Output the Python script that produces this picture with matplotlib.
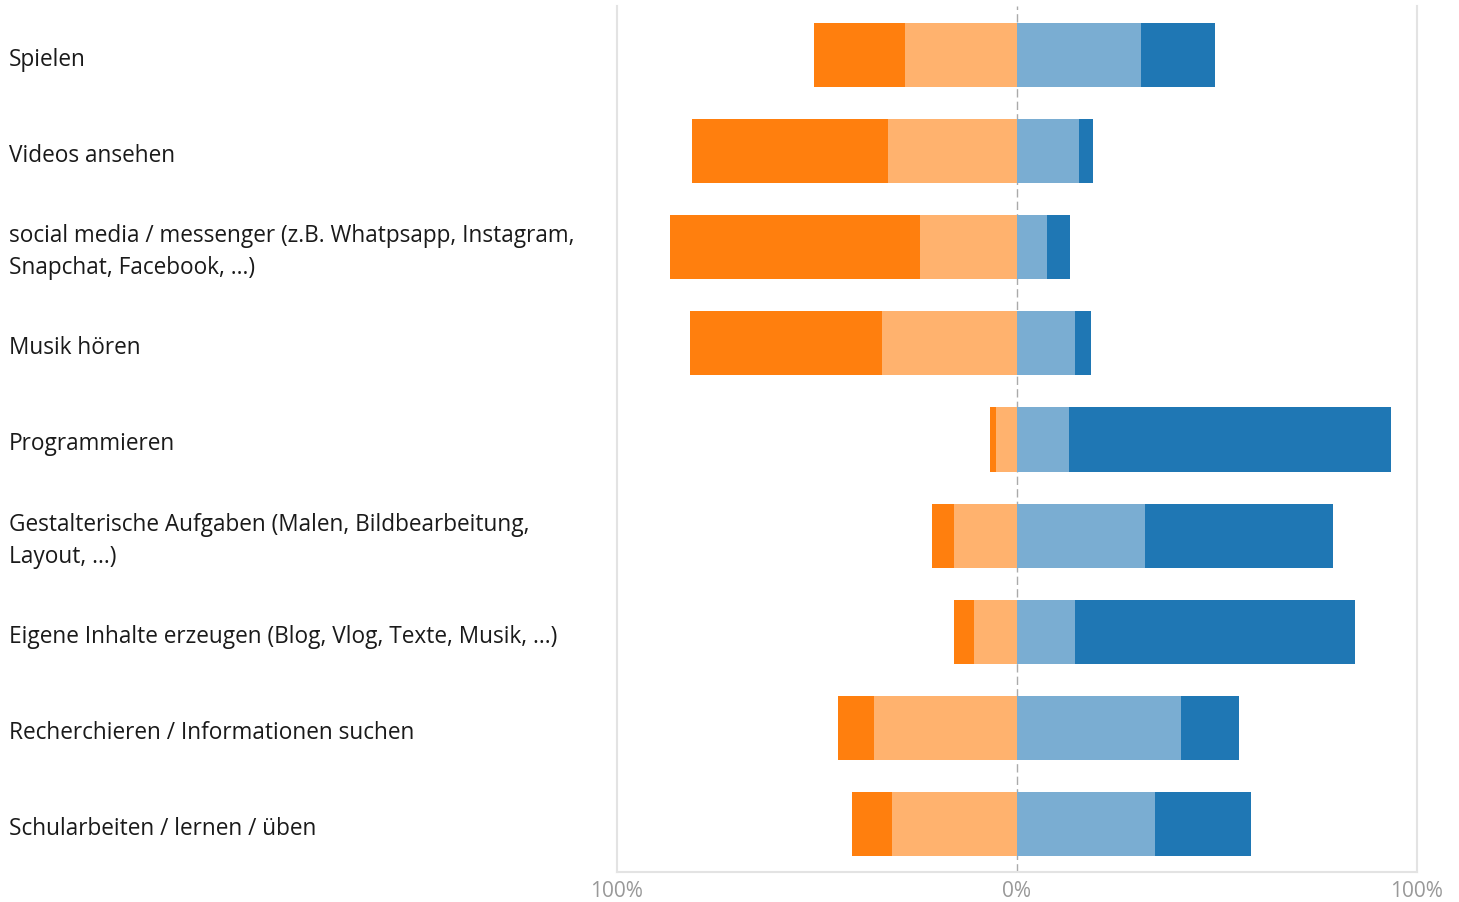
import matplotlib
matplotlib.use("Agg")
import matplotlib.pyplot as plt
import numpy as np

plt.rcParams['font.family'] = ['Open Sans', 'DejaVu Sans']

categories = [
    "Spielen",
    "Videos ansehen",
    "social media / messenger (z.B. Whatpsapp, Instagram,\nSnapchat, Facebook, ...)",
    "Musik hören",
    "Programmieren",
    "Gestalterische Aufgaben (Malen, Bildbearbeitung,\nLayout, ...)",
    "Eigene Inhalte erzeugen (Blog, Vlog, Texte, Musik, ...)",
    "Recherchieren / Informationen suchen",
    "Schularbeiten / lernen / üben",
]

# percentages, left side (negative direction) and right side
strong_neg = [22.75, 49.0, 62.5, 48.0, 1.5, 5.5, 5.0, 9.0, 10.0]
weak_neg = [28.0, 32.25, 24.25, 33.75, 5.25, 15.75, 10.75, 35.75, 31.25]
weak_pos = [31.0, 15.5, 7.5, 14.5, 13.0, 32.0, 14.5, 41.0, 34.5]
strong_pos = [18.5, 3.5, 5.75, 4.0, 80.5, 47.0, 70.0, 14.5, 24.0]

c_strong_neg = '#ff7f0e'
c_weak_neg = '#ffb26e'
c_weak_pos = '#7aadd2'
c_strong_pos = '#1f77b4'

fig = plt.figure(figsize=(14.59, 9.03), dpi=100)
ax = fig.add_axes([617 / 1459, 30 / 903, 800 / 1459, 866 / 903])

y = np.arange(len(categories))
sn = np.array(strong_neg)
wn = np.array(weak_neg)
wp = np.array(weak_pos)
sp = np.array(strong_pos)

ax.axvline(0, color='#aaaaaa', lw=1, ls=(0, (6, 3)), zorder=1)

h = 0.667
ax.barh(y, -wn, height=h, color=c_weak_neg, zorder=2)
ax.barh(y, -sn, left=-wn, height=h, color=c_strong_neg, zorder=2)
ax.barh(y, wp, height=h, color=c_weak_pos, zorder=2)
ax.barh(y, sp, left=wp, height=h, color=c_strong_pos, zorder=2)

ax.set_xlim(-100, 100)
ax.set_ylim(len(categories) - 0.5, -0.51)

ax.set_xticks([-100, 0, 100])
ax.set_xticklabels(['100%', '0%', '100%'], fontsize=15, color='#999999')
ax.tick_params(axis='x', length=0, pad=6)
ax.set_yticks([])

for s in ['left', 'right', 'bottom']:
    ax.spines[s].set_color('#e3e3e3')
    ax.spines[s].set_linewidth(1.5)
ax.spines['top'].set_visible(False)

for i, lab in enumerate(categories):
    ypix = ax.transData.transform((0, i))[1] - 4
    fig.text(9 / 1459, ypix / 903, lab,
             ha='left', va='center', fontsize=16.3, color='#1a1a1a',
             linespacing=1.45)

fig.savefig('out.png', dpi=100)
